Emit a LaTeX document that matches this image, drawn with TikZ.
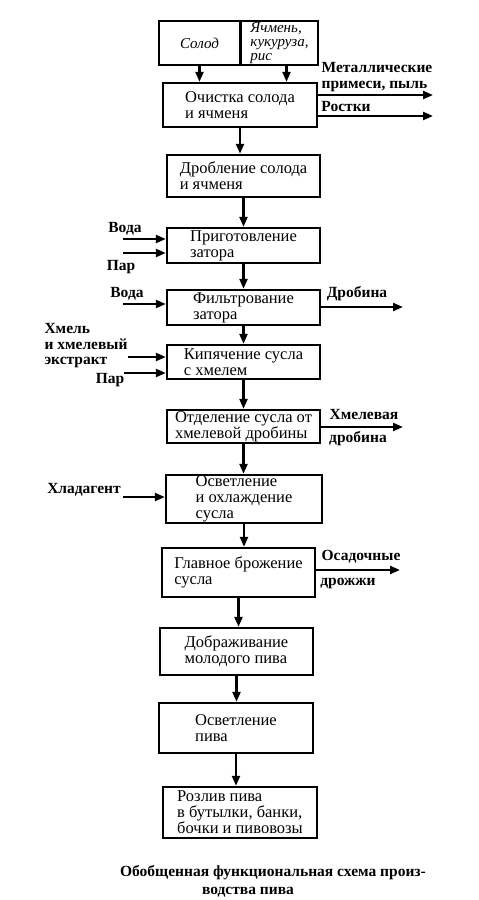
\documentclass[tikz,border=0pt]{standalone}
\usepackage{fontspec}
\setmainfont{Liberation Serif}
\usetikzlibrary{arrows.meta}
\tikzset{
    stage/.style={draw, line width=2.4pt, align=left, inner sep=0pt,
        minimum width=153pt, font=\fontsize{16.5}{16}\selectfont},
    source/.style={stage, minimum height=44pt,
        font=\fontsize{15}{14}\selectfont\itshape},
    note/.style={inner sep=0pt, align=left,
        font=\fontsize{15.5}{15.5}\selectfont\bfseries},
    flow/.style={line width=2.2pt, -{Triangle[length=10pt,width=8pt]}}
}
\begin{document}
\begin{tikzpicture}[x=1pt,y=-1pt]
                \useasboundingbox (0,0) rectangle (479,900);
                % raw materials
                \node[source, minimum width=81pt] (solod) at (199.5,43) {Солод};
                \node[source, minimum width=77pt] (yachmen) at (279.5,43)
                    {Ячмень,\\кукуруза,\\рис};
                % process stages
                \node[stage, minimum width=154pt, minimum height=44pt] (ochistka) at (240,105)
                    {Очистка солода\\ и ячменя};
                \node[stage, minimum height=42pt] (droblenie) at (243.5,176)
                    {Дробление солода\\и ячменя};
                \node[stage, minimum height=35pt] (prigot) at (243.5,245.5)
                    {Приготовление\\затора};
                \node[stage, minimum height=35pt] (filtr) at (243.5,307.5)
                    {Фильтрование\\ затора};
                \node[stage, minimum height=34pt] (kipyach) at (243.5,362)
                    {Кипячение сусла\\с хмелем};
                \node[stage, minimum height=33pt] (otdel) at (243.5,426.5)
                    {Отделение сусла от\\хмелевой дробины};
                \node[stage, minimum width=156pt, minimum height=48pt] (ohlazhd) at (244,499)
                    {Осветление\\и охлаждение\\сусла};
                \node[stage, minimum height=49pt] (glavnoe) at (238.5,572.5)
                    {Главное брожение\\сусла};
                \node[stage, minimum height=47pt] (dobrazh) at (236.5,651.5)
                    {Дображивание\\молодого пива};
                \node[stage, minimum width=154pt, minimum height=50pt] (osvetl) at (236,728)
                    {Осветление\\ пива};
                \node[stage, minimum width=154pt, minimum height=51pt] (rozliv) at (240,812.5)
                    {Розлив пива\\в бутылки, банки,\\бочки и пивовозы};
                % main line
                \draw[flow]
                    (solod.south) -- (solod.south |- ochistka.north);
                \coordinate (yin) at ([xshift=7pt]yachmen.south);
                \draw[flow]
                    (yin) -- (yin |- ochistka.north);
                \foreach \a/\b in {ochistka/droblenie, droblenie/prigot, prigot/filtr,
                    filtr/kipyach, kipyach/otdel, otdel/ohlazhd, ohlazhd/glavnoe,
                    glavnoe/dobrazh, dobrazh/osvetl, osvetl/rozliv}
                    \draw[flow] (\a.south) -- (\a.south |- \b.north);
                % inputs
                \node[note] (lvoda) at (125,229) {Вода};
                \node[note] (lpar) at (121,267) {Пар};
                \node[note] (lvodaf) at (127,294) {Вода};
                \node[note] (lhmel) at (86,346) {Хмель\\и хмелевый\\экстракт};
                \node[note] (lpark) at (110,380) {Пар};
                \node[note] (lhlad) at (84,490) {Хладагент};
                \coordinate (voda) at (123,239);
                \coordinate (par) at (123,253);
                \coordinate (vodaf) at (123,304);
                \coordinate (hmel) at (128,357);
                \coordinate (park) at (124,373);
                \coordinate (hlad) at (123,497);
                \draw[flow] (voda) -- (voda -| prigot.west);
                \draw[flow] (par) -- (par -| prigot.west);
                \draw[flow] (vodaf) -- (vodaf -| filtr.west);
                \draw[flow] (hmel) -- (hmel -| kipyach.west);
                \draw[flow] (park) -- (park -| kipyach.west);
                \draw[flow] (hlad) -- (hlad -| ohlazhd.west);
                % outputs
                \node[note] (lmetal) at (377,77) {Металлические\\примеси, пыль};
                \node[note] (lrostki) at (346,106) {Ростки};
                \node[note] (ldrobina) at (357,294) {Дробина};
                \node[note] (lhmelev) at (364,414) {Хмелевая};
                \node[note] (ldrobinah) at (358,439) {дробина};
                \node[note] (losad) at (361,557) {Осадочные};
                \node[note] (ldrozh) at (348,583) {дрожжи};
                \coordinate (metal) at (433,95);
                \coordinate (rostki) at (433,116);
                \coordinate (drobina) at (403,307);
                \coordinate (drobinah) at (403,427);
                \coordinate (osad) at (400,570);
                \draw[flow] (metal -| ochistka.east) -- (metal);
                \draw[flow] (rostki -| ochistka.east) -- (rostki);
                \draw[flow] (drobina -| filtr.east) -- (drobina);
                \draw[flow] (drobinah -| otdel.east) -- (drobinah);
                \draw[flow] (osad -| glavnoe.east) -- (osad);
                % caption
                \node[note] (title) at (273,873) {Обобщенная функциональная схема произ-};
                \node[note] (titlecont) at (248,892) {водства пива};
            \end{tikzpicture}
\end{document}
